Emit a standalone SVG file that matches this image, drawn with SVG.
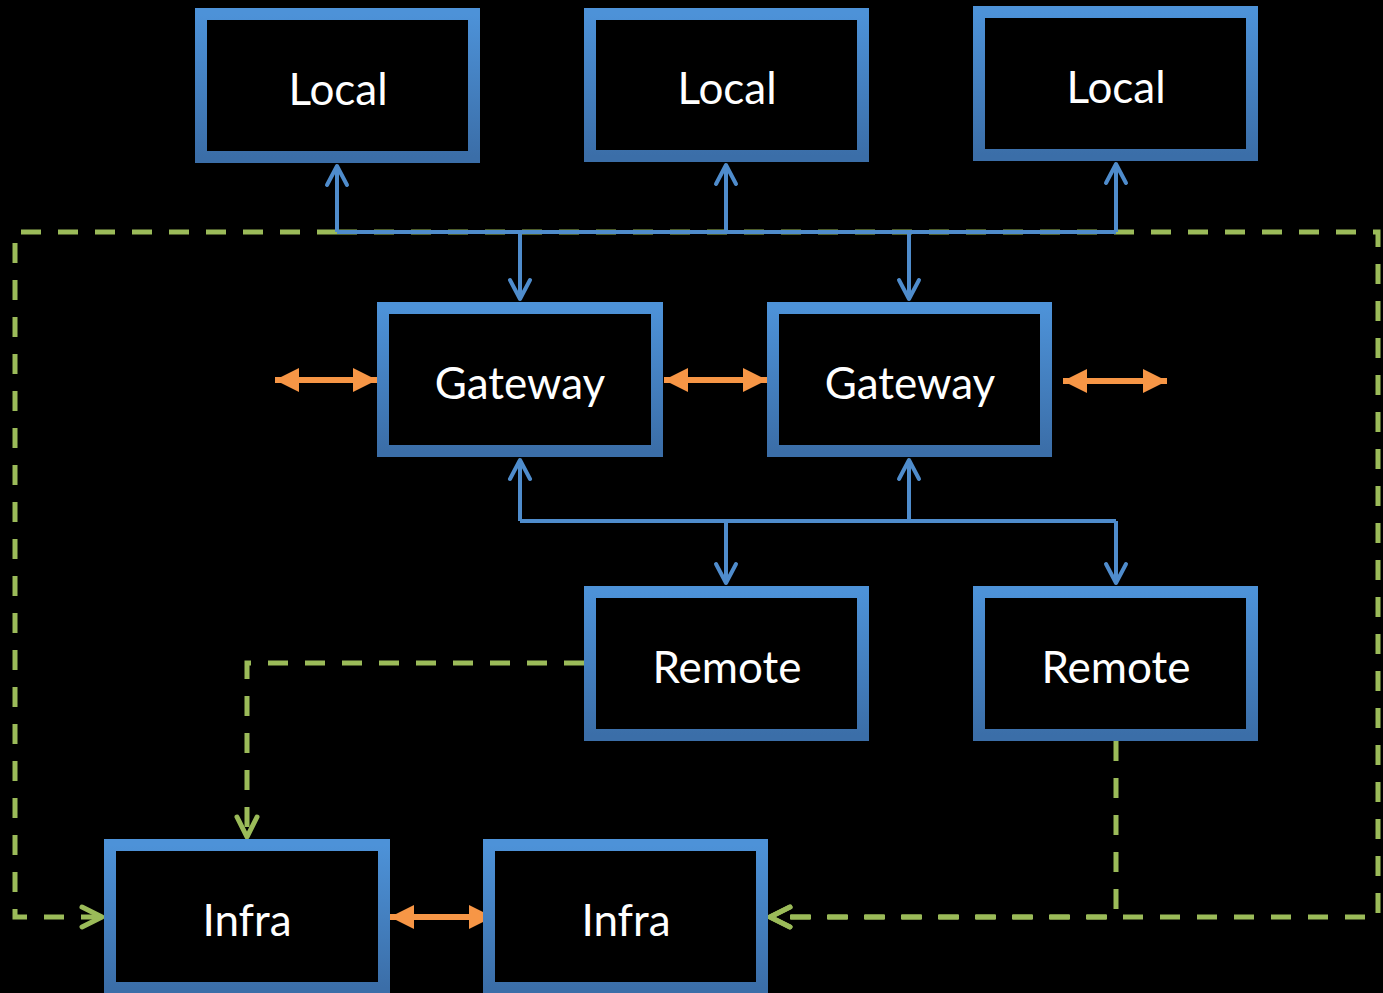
<svg xmlns="http://www.w3.org/2000/svg" width="1383" height="993" viewBox="0 0 1383 993">
  <defs>
    <linearGradient id="frame" x1="0" y1="0" x2="0" y2="1">
      <stop offset="0" stop-color="#4d92d8"/>
      <stop offset="1" stop-color="#3b6ea8"/>
    </linearGradient>
    <marker id="blueHead" viewBox="-24 -14 28 28" markerWidth="28" markerHeight="28" refX="0" refY="0" orient="auto" markerUnits="userSpaceOnUse">
      <path d="M-19,-10 L0,0 L-19,10" fill="none" stroke="#4f8ccc" stroke-width="4" stroke-linecap="round" stroke-linejoin="round"/>
    </marker>
    <marker id="greenHead" viewBox="-26 -14 30 28" markerWidth="30" markerHeight="28" refX="0" refY="0" orient="auto" markerUnits="userSpaceOnUse">
      <path d="M-20,-10 L0,0 L-20,10" fill="none" stroke="#9bbb59" stroke-width="5" stroke-linecap="round" stroke-linejoin="round"/>
    </marker>
    <marker id="orangeHead" viewBox="-2 -14 28 28" markerWidth="28" markerHeight="28" refX="24" refY="0" orient="auto-start-reverse" markerUnits="userSpaceOnUse">
      <path d="M0,-12 L24,0 L0,12 Z" fill="#f79646"/>
    </marker>
  </defs>
  <style>
    .box { fill: #000; stroke: url(#frame); stroke-width: 12; }
    .label { font-family: Lato, "Open Sans", "Liberation Sans", sans-serif; font-size: 44px; fill: #fff; text-anchor: middle; }
    .blue { fill: none; stroke: #4f8ccc; stroke-width: 4; }
    .green { fill: none; stroke: #9bbb59; stroke-width: 5; stroke-dasharray: 20 17; }
    .orange { fill: none; stroke: #f79646; stroke-width: 6; }
  </style>
  <rect width="1383" height="993" fill="#000"/>

  <!-- connectors -->
  <g id="connectors">
    <!-- dashed monitoring loops -->
    <path class="green" d="M337,232 L15,232 L15,917 L102,917" marker-end="url(#greenHead)"/>
    <path class="green" d="M337,232 L1378,232 L1378,917 L770,917" marker-end="url(#greenHead)"/>
    <path class="green" d="M1116,741 L1116,917 L770,917" marker-end="url(#greenHead)"/>
    <path class="green" d="M584,663 L247,663 L247,837" marker-end="url(#greenHead)"/>

    <!-- local bus -->
    <path class="blue" d="M337,232 L1116,232"/>
    <path class="blue" d="M337,232 L337,166" marker-end="url(#blueHead)"/>
    <path class="blue" d="M726,232 L726,165" marker-end="url(#blueHead)"/>
    <path class="blue" d="M1116,232 L1116,164" marker-end="url(#blueHead)"/>
    <path class="blue" d="M520,232 L520,299" marker-end="url(#blueHead)"/>
    <path class="blue" d="M909,232 L909,299" marker-end="url(#blueHead)"/>

    <!-- remote bus -->
    <path class="blue" d="M520,521 L1116,521"/>
    <path class="blue" d="M520,521 L520,460" marker-end="url(#blueHead)"/>
    <path class="blue" d="M909,521 L909,460" marker-end="url(#blueHead)"/>
    <path class="blue" d="M726,521 L726,583" marker-end="url(#blueHead)"/>
    <path class="blue" d="M1116,521 L1116,583" marker-end="url(#blueHead)"/>

    <!-- peer links -->
    <path class="orange" d="M275,380 L377,380" marker-start="url(#orangeHead)" marker-end="url(#orangeHead)"/>
    <path class="orange" d="M664,380 L767,380" marker-start="url(#orangeHead)" marker-end="url(#orangeHead)"/>
    <path class="orange" d="M1063,381 L1167,381" marker-start="url(#orangeHead)" marker-end="url(#orangeHead)"/>
    <path class="orange" d="M390,917 L493,917" marker-start="url(#orangeHead)" marker-end="url(#orangeHead)"/>
  </g>

  <!-- nodes -->
  <g id="local1"><rect class="box" x="201" y="14" width="273" height="143"/><text class="label" x="338" y="105">Local</text></g>
  <g id="local2"><rect class="box" x="590" y="14" width="273" height="142"/><text class="label" x="727" y="104">Local</text></g>
  <g id="local3"><rect class="box" x="979" y="12" width="273" height="143"/><text class="label" x="1116" y="103">Local</text></g>
  <g id="gateway1"><rect class="box" x="383" y="308" width="274" height="143"/><text class="label" x="520" y="399">Gateway</text></g>
  <g id="gateway2"><rect class="box" x="773" y="308" width="273" height="143"/><text class="label" x="910" y="399">Gateway</text></g>
  <g id="remote1"><rect class="box" x="590" y="592" width="273" height="143"/><text class="label" x="727" y="683">Remote</text></g>
  <g id="remote2"><rect class="box" x="979" y="592" width="273" height="143"/><text class="label" x="1116" y="683">Remote</text></g>
  <g id="infra1"><rect class="box" x="110" y="845" width="274" height="143"/><text class="label" x="247" y="936">Infra</text></g>
  <g id="infra2"><rect class="box" x="489" y="845" width="273" height="143"/><text class="label" x="626" y="936">Infra</text></g>
</svg>
